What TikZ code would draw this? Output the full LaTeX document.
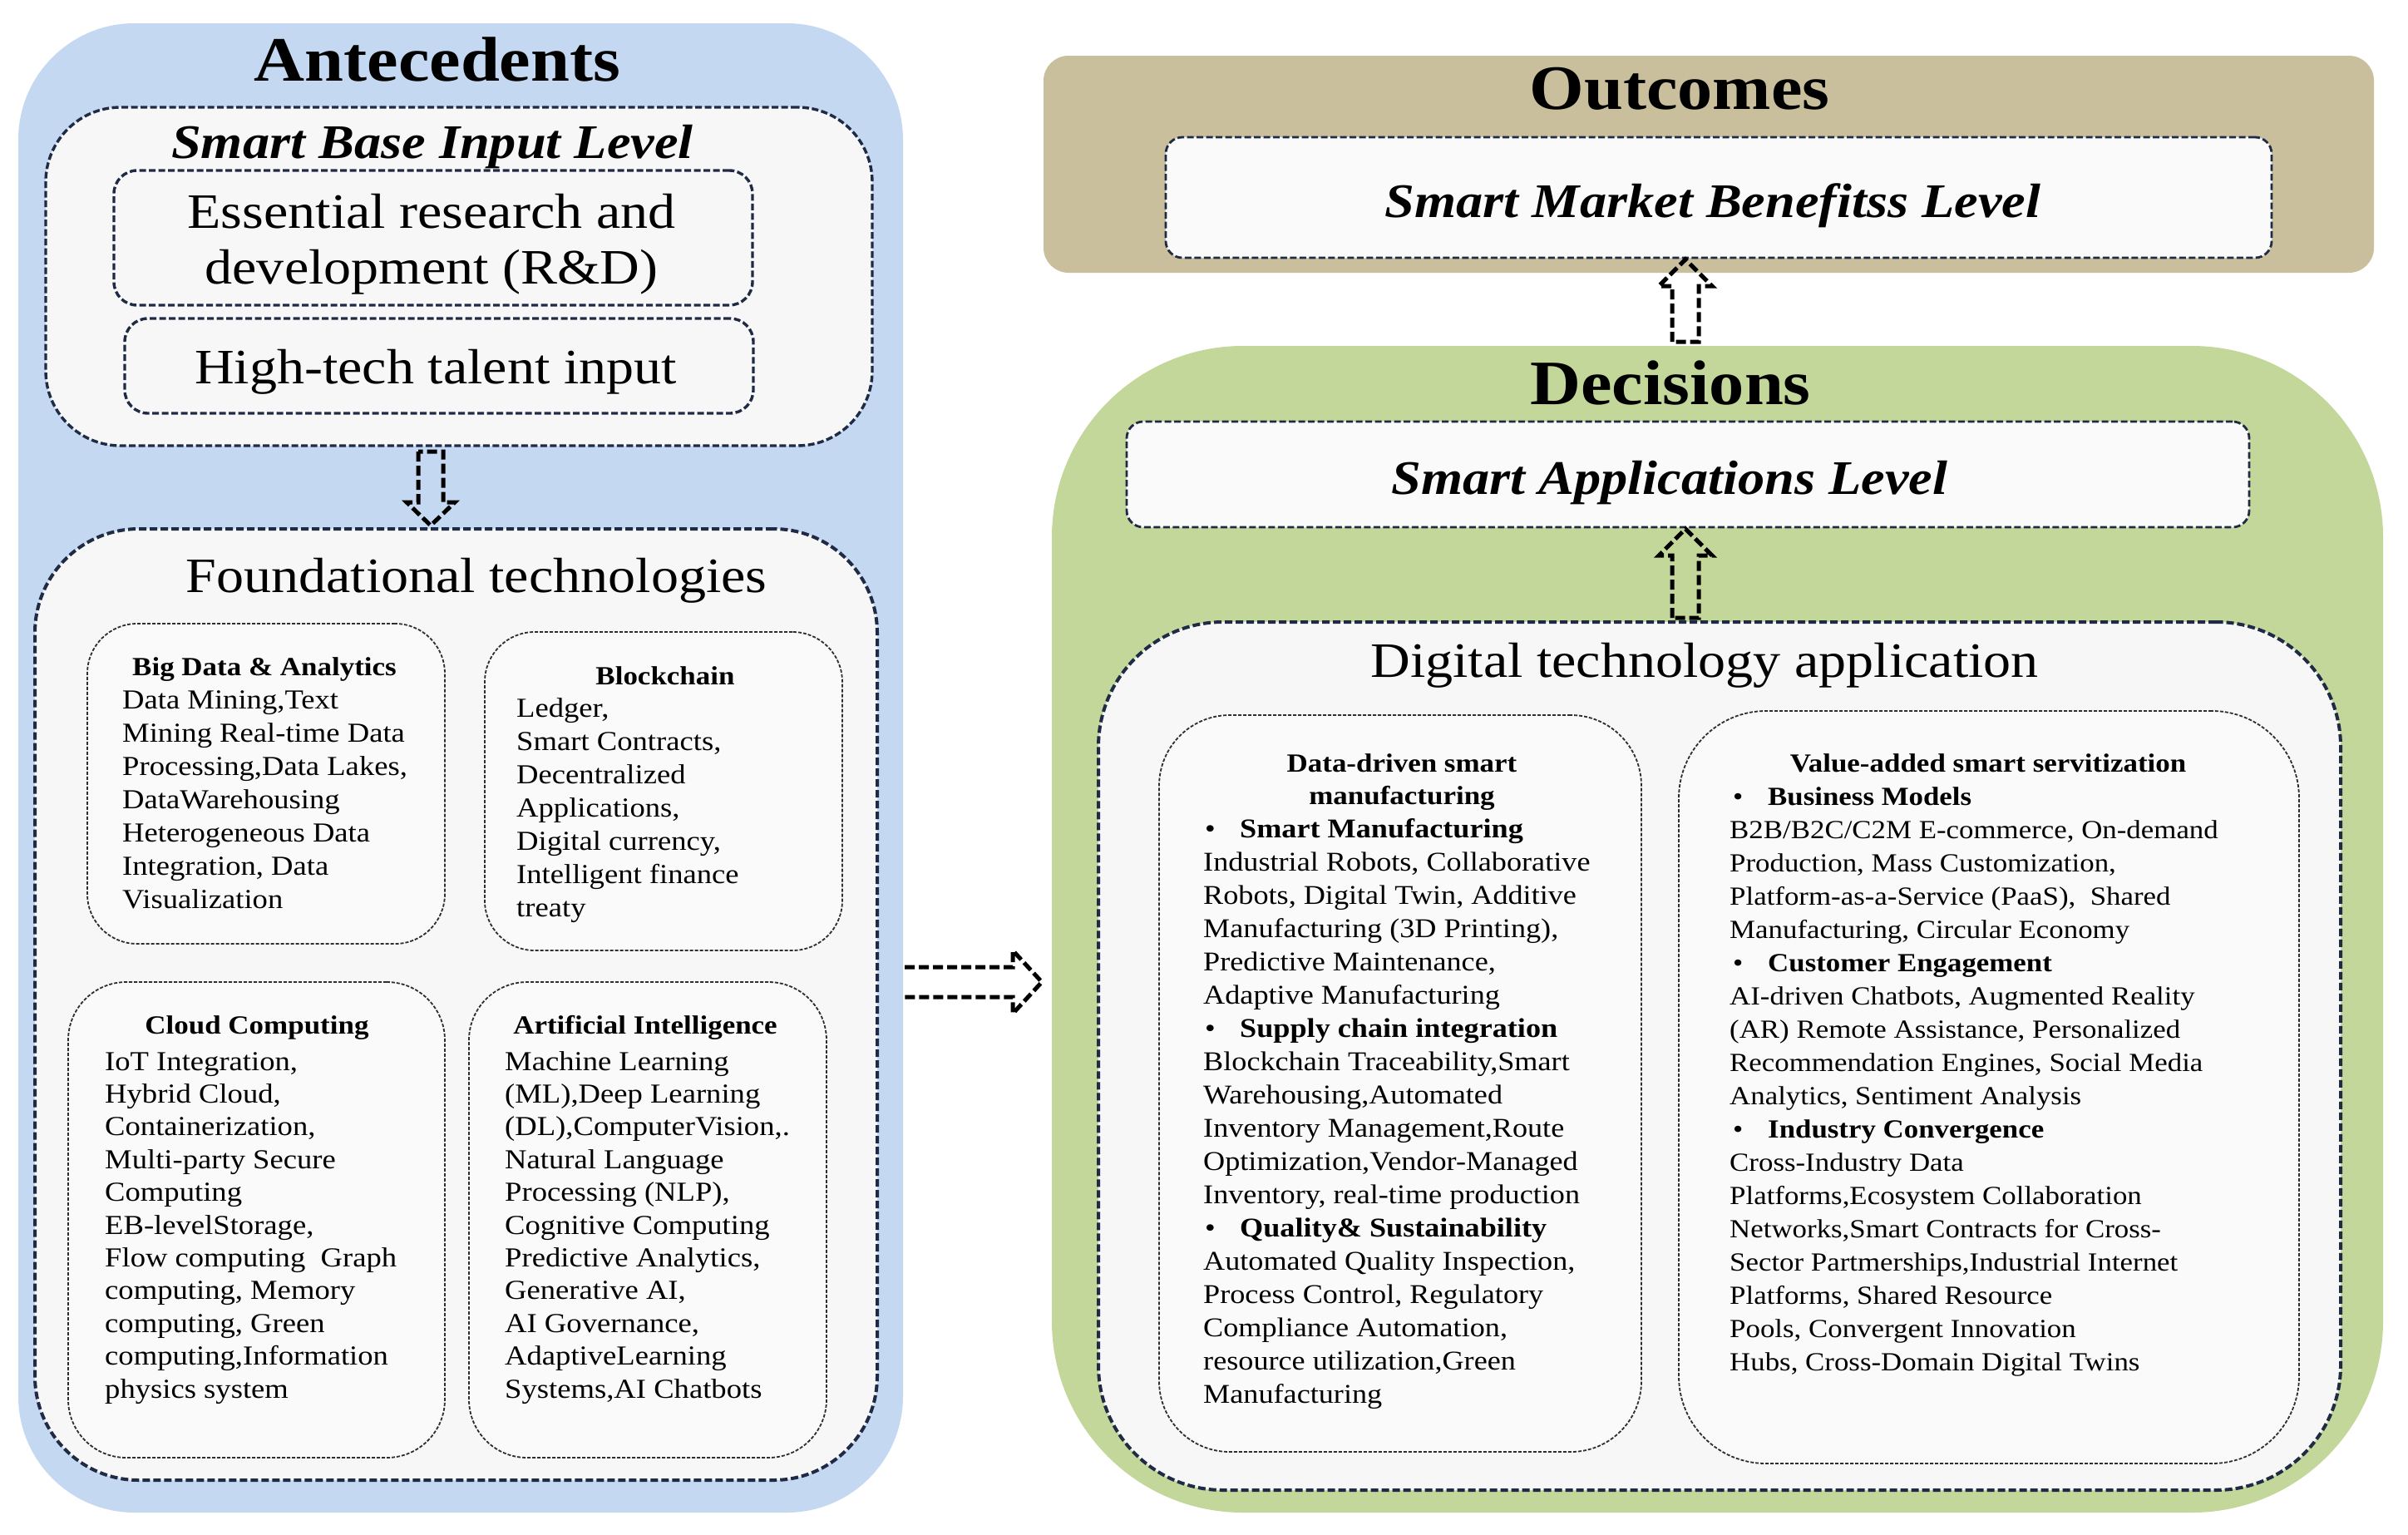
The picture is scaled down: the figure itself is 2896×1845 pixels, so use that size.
\documentclass[tikz,border=0pt]{standalone}
\usepackage{fontspec}
\setmainfont{Liberation Serif}[FakeStretch=1.11]
\usetikzlibrary{calc}
\definecolor{antblue}{HTML}{C5D8F1}
\definecolor{decgreen}{HTML}{C4D79B}
\definecolor{outtan}{HTML}{C9BF9C}
\definecolor{navy}{HTML}{1F2B45}
\definecolor{panel}{HTML}{F7F7F7}
\definecolor{panelB}{HTML}{FAFAFA}
\definecolor{dotline}{HTML}{2E2E2E}
\newcommand{\fs}[2]{\fontsize{#1pt}{#2pt}\selectfont}
\newcommand{\bulA}[1]{\hspace*{2pt}\makebox[42pt][l]{\textbullet}\textbf{#1}}
\newcommand{\bulB}[1]{\hspace*{4pt}\makebox[42pt][l]{\textbullet}\textbf{#1}}
\begin{document}
\begin{tikzpicture}[x=1pt,y=-1pt,
 box/.style={rectangle, inner sep=0pt, outer sep=0pt},
 group/.style={box, fill=#1},
 bigdash/.style={box, draw=navy, line width=4pt, dash pattern=on 9pt off 4pt, fill=panel},
 middash/.style={box, draw=navy, line width=3.4pt, dash pattern=on 8pt off 3.5pt, fill=panel},
 dotbox/.style={box, draw=dotline, line width=1.8pt, dash pattern=on 4pt off 2pt, fill=panelB},
 blockarrow/.style={draw=black, line width=5pt, dash pattern=on 12pt off 5pt, line join=miter},
 title/.style={inner sep=0pt, anchor=base, font=\fs{76}{80}\bfseries},
 level/.style={inner sep=0pt, anchor=base, font=\fs{58}{64}\bfseries\itshape},
 big/.style={inner sep=0pt, anchor=base, align=center, font=\fs{59.5}{67}},
 head/.style={inner sep=0pt, anchor=base, align=center, font=\fs{31.5}{39}\bfseries},
 body/.style={inner sep=0pt, anchor=base west, align=left, font=\fs{#1}{40}},
 body/.default=33,
]
\useasboundingbox[fill=white] (0,0) rectangle (2896,1845);

% ---------- group backgrounds ----------
\node[group=antblue, rounded corners=140pt, minimum width=1064pt, minimum height=1791pt] (ante) at (554,923.5) {};
\node[group=outtan, rounded corners=30pt, minimum width=1600pt, minimum height=261pt] (outc) at (2055,197.5) {};
\node[group=decgreen, rounded corners=230pt, minimum width=1601pt, minimum height=1403pt] (dec) at (2065.5,1117.5) {};

% ---------- left side ----------
\node[middash, rounded corners=90pt, minimum width=994pt, minimum height=407pt] (sbil) at (552,332.5) {};
\node[middash, rounded corners=28pt, minimum width=768pt, minimum height=162pt] (rd) at (521,286) {};
\node[middash, rounded corners=28pt, minimum width=756pt, minimum height=114pt] (ht) at (528,440) {};
\node[bigdash, rounded corners=125pt, minimum width=1013pt, minimum height=1144pt] (found) at (548.5,1208) {};
\node[dotbox, rounded corners=60pt, minimum width=430pt, minimum height=385pt] (bd) at (320,942.5) {};
\node[dotbox, rounded corners=60pt, minimum width=430pt, minimum height=383pt] (bc) at (798,951.5) {};
\node[dotbox, rounded corners=70pt, minimum width=453pt, minimum height=572pt] (cc) at (308.5,1467) {};
\node[dotbox, rounded corners=70pt, minimum width=430pt, minimum height=572pt] (ai) at (779,1467) {};

% ---------- right side ----------
\node[middash, fill=panelB, line width=2.8pt, rounded corners=20pt, minimum width=1330pt, minimum height=145pt] (smbl) at (2067,237.5) {};
\node[middash, fill=panelB, line width=2.8pt, rounded corners=20pt, minimum width=1350pt, minimum height=127pt] (sal) at (2030,570.5) {};
\node[bigdash, rounded corners=150pt, minimum width=1494pt, minimum height=1044pt] (dta) at (2068,1270) {};
\node[dotbox, rounded corners=85pt, minimum width=580pt, minimum height=886pt] (dd) at (1684,1303) {};
\node[dotbox, rounded corners=105pt, minimum width=746pt, minimum height=905pt] (va) at (2392,1307.5) {};

% ---------- titles (base anchor = last line's baseline) ----------
\node[title] (tante) at (526,97) {Antecedents};
\node[level] (tsbil) at (520,190) {Smart Base Input Level};
\node[big] (trd) at (519,341) {Essential research and\\development (R\&D)};
\node[big] (tht) at (524,461) {High-tech talent input};
\node[big] (tfound) at (573,712) {Foundational technologies};
\node[title] (toutc) at (2020,131) {Outcomes};
\node[level] (tsmbl) at (2060,261) {Smart Market Benefitss Level};
\node[title] (tdec) at (2009,486) {Decisions};
\node[level] (tsal) at (2008,594) {Smart Applications Level};
\node[big] (tdta) at (2050,814) {Digital technology application};

% ---------- left inner boxes text ----------
\node[head] (hbd) at (318,812) {Big Data \& Analytics};
\node[body] (xbd) at (147,1092) {Data Mining,Text\\Mining Real-time Data\\Processing,Data Lakes,\\DataWarehousing\\Heterogeneous Data\\Integration, Data\\Visualization};
\node[head] (hbc) at (800,823) {Blockchain};
\node[body] (xbc) at (621,1102) {Ledger,\\Smart Contracts,\\Decentralized\\Applications,\\Digital currency,\\Intelligent finance\\treaty};
\node[head] (hcc) at (309,1243) {Cloud Computing};
\node[body, font=\fs{33}{39.4}] (xcc) at (126,1681) {IoT Integration,\\Hybrid Cloud,\\Containerization,\\Multi-party Secure\\Computing\\EB-levelStorage,\\Flow computing\ \ Graph\\computing, Memory\\computing, Green\\computing,Information\\physics system};
\node[head] (hai) at (776,1243) {Artificial Intelligence};
\node[body, font=\fs{33}{39.4}] (xai) at (607,1681) {Machine Learning\\(ML),Deep Learning\\(DL),ComputerVision,.\\Natural Language\\Processing (NLP),\\Cognitive Computing\\Predictive Analytics,\\Generative AI,\\AI Governance,\\AdaptiveLearning\\Systems,AI Chatbots};

% ---------- right inner boxes text ----------
\node[head] (hdd) at (1686,967) {Data-driven smart\\manufacturing};
\node[body=32.6] (xdd) at (1447,1687) {\bulA{Smart Manufacturing}\\Industrial Robots, Collaborative\\Robots, Digital Twin, Additive\\Manufacturing (3D Printing),\\Predictive Maintenance,\\Adaptive Manufacturing\\\bulA{Supply chain integration}\\Blockchain Traceability,Smart\\Warehousing,Automated\\Inventory Management,Route\\Optimization,Vendor-Managed\\Inventory, real-time production\\\bulA{Quality\& Sustainability}\\Automated Quality Inspection,\\Process Control, Regulatory\\Compliance Automation,\\resource utilization,Green\\Manufacturing};
\node[head] (hva) at (2391,928) {Value-added smart servitization};
\node[body=31.4] (xva) at (2080,1648) {\bulB{Business Models}\\B2B/B2C/C2M E-commerce, On-demand\\Production, Mass Customization,\\Platform-as-a-Service (PaaS),\ \ Shared\\Manufacturing, Circular Economy\\\bulB{Customer Engagement}\\AI-driven Chatbots, Augmented Reality\\(AR) Remote Assistance, Personalized\\Recommendation Engines, Social Media\\Analytics, Sentiment Analysis\\\bulB{Industry Convergence}\\Cross-Industry Data\\Platforms,Ecosystem Collaboration\\Networks,Smart Contracts for Cross-\\Sector Partmerships,Industrial Internet\\Platforms, Shared Resource\\Pools, Convergent Innovation\\Hubs, Cross-Domain Digital Twins};

% ---------- arrows ----------
\path (518,0) coordinate (xa1) (2027,0) coordinate (xa2) (0,1181) coordinate (ya);
\draw[blockarrow] ($(xa1|-sbil.south)+(-15,7)$) -- ($(xa1|-found.north)+(-15,-32)$) -- ($(xa1|-found.north)+(-29,-32)$) -- ($(xa1|-found.north)+(0,-4)$) -- ($(xa1|-found.north)+(29,-32)$) -- ($(xa1|-found.north)+(15,-32)$) -- ($(xa1|-sbil.south)+(15,7)$) -- cycle;
\draw[blockarrow] ($(xa2|-dec.north)+(-16,-5)$) -- ($(xa2|-smbl.south)+(-16,34)$) -- ($(xa2|-smbl.south)+(-32,34)$) -- ($(xa2|-smbl.south)+(0,2)$) -- ($(xa2|-smbl.south)+(32,34)$) -- ($(xa2|-smbl.south)+(16,34)$) -- ($(xa2|-dec.north)+(16,-5)$) -- cycle;
\draw[blockarrow] ($(xa2|-dta.north)+(-16,-5)$) -- ($(xa2|-sal.south)+(-16,34)$) -- ($(xa2|-sal.south)+(-32,34)$) -- ($(xa2|-sal.south)+(0,2)$) -- ($(xa2|-sal.south)+(32,34)$) -- ($(xa2|-sal.south)+(16,34)$) -- ($(xa2|-dta.north)+(16,-5)$) -- cycle;
\draw[blockarrow] ($(ante.east|-ya)+(2,-18)$) -- ($(dec.west|-ya)+(-47,-18)$) -- ($(dec.west|-ya)+(-47,-38)$) -- ($(dec.west|-ya)+(-12,0)$) -- ($(dec.west|-ya)+(-47,38)$) -- ($(dec.west|-ya)+(-47,18)$) -- ($(ante.east|-ya)+(2,18)$);
\end{tikzpicture}
\end{document}
